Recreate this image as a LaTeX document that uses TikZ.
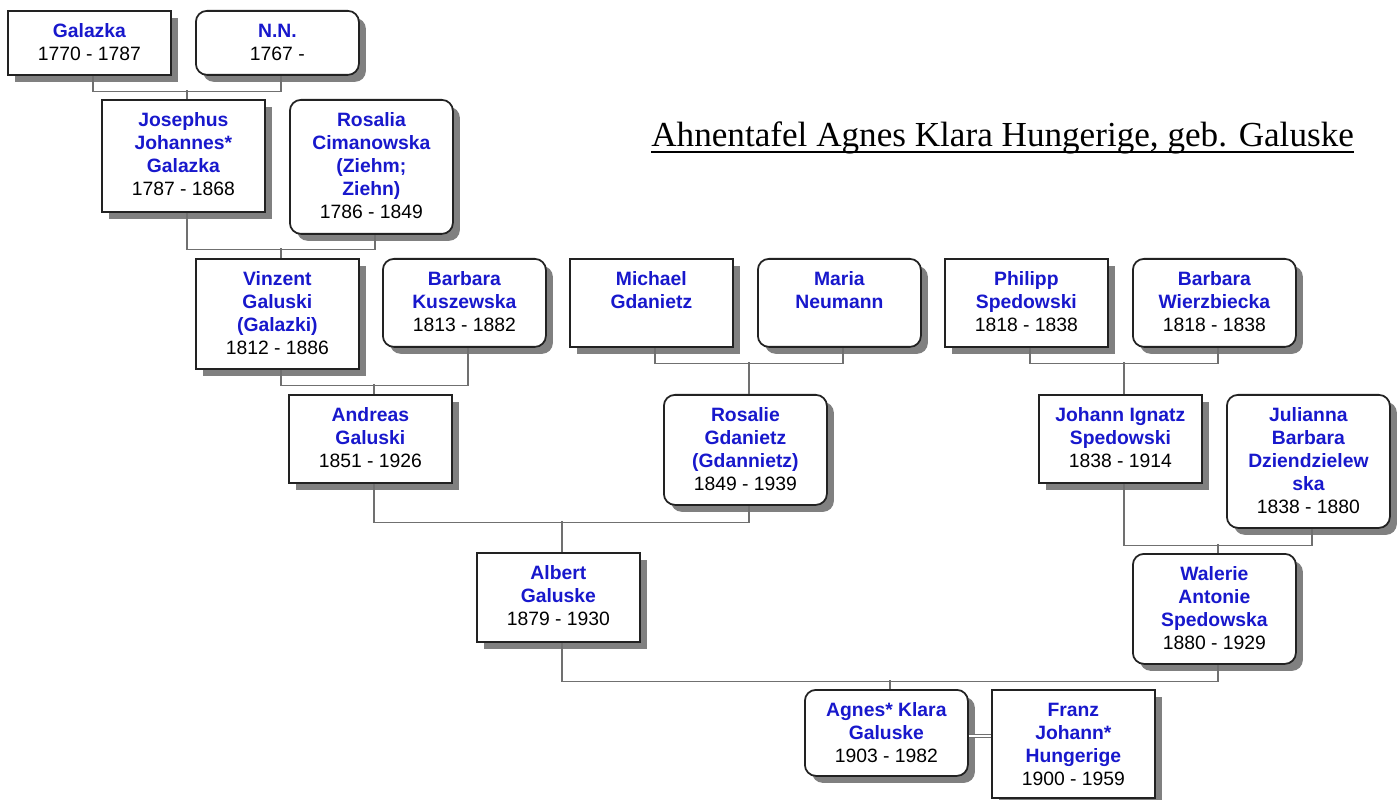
\documentclass[tikz,border=0pt]{standalone}
\usepackage{fontspec}
\setmainfont{Liberation Sans}
\newfontfamily\titlefont{Liberation Serif}
\usetikzlibrary{calc,shadows}

\definecolor{namecol}{RGB}{24,24,204}
\definecolor{linkgray}{RGB}{112,112,112}
\definecolor{framecol}{RGB}{34,34,34}
\definecolor{shadowcol}{RGB}{128,128,128}

\newlength{\pxu}
\setlength{\pxu}{0.02cm}
% box text: height, name lines, dates
\newcommand{\who}[3]{\parbox[c][#1\pxu][t]{163\pxu}{\centering\fontsize{11}{13}\selectfont
  \rule{0pt}{27\pxu}\textcolor{namecol}{\bfseries #2}\par #3}}

\tikzset{
  person/.style={draw=framecol, line width=1pt, fill=white, inner sep=0pt, anchor=north west,
    drop shadow={shadow xshift=0.14cm, shadow yshift=-0.14cm, fill=shadowcol, opacity=1}},
  male/.style={person},
  female/.style={person, rounded corners=0.22cm},
  link/.style={draw=linkgray, line width=0.8pt},
  marriage/.style={draw=linkgray, line width=0.6pt, double=white, double distance=0.05cm},
}

\begin{document}
\begin{tikzpicture}[x=0.02cm, y=-0.02cm]
    \useasboundingbox (0,0) rectangle (1400,800);

    % generation 5
    \node[male]   (galazka)  at (7,10)    {\who{64}{Galazka}{1770 - 1787}};
    \node[female] (nn)       at (195,10)  {\who{64}{N.N.}{1767 -}};

    % generation 4
    \node[male]   (josephus) at (101,99)  {\who{112}{Josephus\\Johannes*\\Galazka}{1787 - 1868}};
    \node[female] (rosalia)  at (289,99)  {\who{134}{Rosalia\\Cimanowska\\(Ziehm;\\Ziehn)}{1786 - 1849}};

    % generation 3
    \node[male]   (vinzent)  at (195,258)  {\who{110}{Vinzent\\Galuski\\(Galazki)}{1812 - 1886}};
    \node[female] (barbarak) at (382,258)  {\who{88}{Barbara\\Kuszewska}{1813 - 1882}};
    \node[male]   (michael)  at (569,258)  {\who{88}{Michael\\Gdanietz}{}};
    \node[female] (maria)    at (757,258)  {\who{88}{Maria\\Neumann}{}};
    \node[male]   (philipp)  at (944,258)  {\who{88}{Philipp\\Spedowski}{1818 - 1838}};
    \node[female] (barbaraw) at (1132,258) {\who{88}{Barbara\\Wierzbiecka}{1818 - 1838}};

    % generation 2
    \node[male]   (andreas)  at (288,394)  {\who{88}{Andreas\\Galuski}{1851 - 1926}};
    \node[female] (rosalie)  at (663,394)  {\who{110}{Rosalie\\Gdanietz\\(Gdannietz)}{1849 - 1939}};
    \node[male]   (johann)   at (1038,394) {\who{88}{Johann Ignatz\\Spedowski}{1838 - 1914}};
    \node[female] (julianna) at (1226,394) {\who{133}{Julianna\\Barbara\\Dziendzielew\\ska}{1838 - 1880}};

    % generation 1
    \node[male]   (albert)   at (476,552)  {\who{89}{Albert\\Galuske}{1879 - 1930}};
    \node[female] (walerie)  at (1132,553) {\who{110}{Walerie\\Antonie\\Spedowska}{1880 - 1929}};

    % proband and husband
    \node[female] (agnes)    at (804,689)  {\who{86}{Agnes* Klara\\Galuske}{1903 - 1982}};
    \node[male]   (franz)    at (991,689)  {\who{108}{Franz\\Johann*\\Hungerige}{1900 - 1959}};

    % parent lines
    \draw[link] ($(galazka.south)+(3.5,0)$) -- ++(0,16) -| ($(nn.south)+(3.5,0)$);
    \draw[link] ($(josephus.north)+(3.5,0)$) -- ++(0,-9);

    \draw[link] ($(josephus.south)+(3.5,0)$) -- ++(0,37) -| ($(rosalia.south)+(3.5,0)$);
    \draw[link] ($(vinzent.north)+(3.5,0)$) -- ++(0,-10);

    \draw[link] ($(vinzent.south)+(3.5,0)$) -- ++(0,16) -| ($(barbarak.south)+(3.5,0)$);
    \draw[link] ($(andreas.north)+(3.5,0)$) -- ++(0,-10);

    \draw[link] ($(michael.south)+(3.5,0)$) -- ++(0,16) -| ($(maria.south)+(3.5,0)$);
    \draw[link] ($(rosalie.north)+(3.5,0)$) -- ++(0,-32);

    \draw[link] ($(philipp.south)+(3.5,0)$) -- ++(0,16) -| ($(barbaraw.south)+(3.5,0)$);
    \draw[link] ($(johann.north)+(3.5,0)$) -- ++(0,-32);

    \draw[link] ($(andreas.south)+(3.5,0)$) -- ++(0,39) -| ($(rosalie.south)+(3.5,0)$);
    \draw[link] ($(albert.north)+(3.5,0)$) -- ++(0,-31);

    \draw[link] ($(johann.south)+(3.5,0)$) -- ++(0,62) -| ($(julianna.south)+(3.5,0)$);
    \draw[link] ($(walerie.north)+(3.5,0)$) -- ++(0,-9);

    \draw[link] ($(albert.south)+(3.5,0)$) -- ++(0,39) -| ($(walerie.south)+(3.5,0)$);
    \draw[link] ($(agnes.north)+(3.5,0)$) -- ++(0,-9);

    % marriage
    \draw[marriage] ($(agnes.east)+(0,3)$) -- ($(franz.west |- agnes.east)+(0,3)$);

    % title
    \node[anchor=base west, inner sep=0pt] (title) at (651,147)
      {\titlefont\fontsize{20}{24}\selectfont Ahnentafel Agnes Klara Hungerige, geb. Galuske};
    \draw[line width=1pt] ($(title.base west)+(0,5)$) -- ($(title.base east)+(0,5)$);
\end{tikzpicture}
\end{document}
